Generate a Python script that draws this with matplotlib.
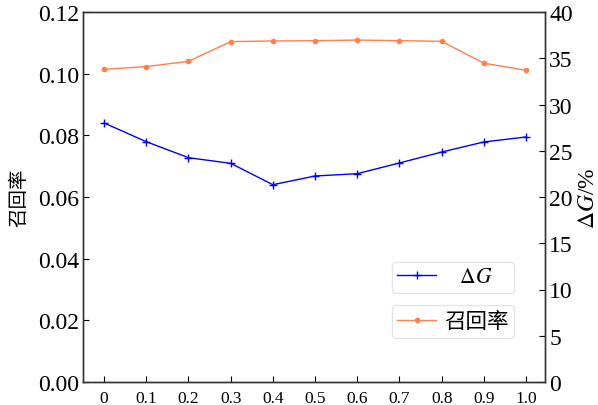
import matplotlib
matplotlib.use("Agg")
import matplotlib.pyplot as plt

plt.rcParams['font.family'] = ['Liberation Serif', 'Noto Sans CJK SC']
plt.rcParams['mathtext.fontset'] = 'stix'

# threshold values on the x axis
thresholds = [0.0, 0.1, 0.2, 0.3, 0.4, 0.5, 0.6, 0.7, 0.8, 0.9, 1.0]
x_labels = ['0', '0.1', '0.2', '0.3', '0.4', '0.5', '0.6', '0.7', '0.8', '0.9', '1.0']

# recall (left axis)
recall = [0.1014, 0.1023, 0.1040, 0.1104, 0.1106, 0.1107, 0.1109, 0.1107, 0.1105, 0.1034, 0.1011]
# delta G in percent (right axis)
delta_g = [28.0, 25.98, 24.25, 23.64, 21.33, 22.27, 22.52, 23.68, 24.86, 25.95, 26.49]

left_ticks = [0.00, 0.02, 0.04, 0.06, 0.08, 0.10, 0.12]
right_ticks = [0, 5, 10, 15, 20, 25, 30, 35, 40]

fig = plt.figure(figsize=(5.98, 4.06), dpi=100)
ax = fig.add_axes([83 / 598, 1 - 383 / 406, (545 - 83) / 598, (383 - 13) / 406])
ax2 = ax.twinx()

ax.plot(thresholds, recall, color='#ff7f50', marker='o', markersize=3,
        linewidth=1.0, label='召回率')
ax2.plot(thresholds, delta_g, color='#0000ff', marker='+', markersize=6,
         markeredgewidth=1.0, linewidth=1.0, label='$\\quad\\Delta G$')

ax.set_xlim(-0.05, 1.045)
ax.set_ylim(0, 0.12)
ax2.set_ylim(0, 40)
ax.set_xticks(thresholds)
ax.set_xticklabels(x_labels)
ax.set_yticks(left_ticks)
ax.set_yticklabels([f'{v:.2f}' for v in left_ticks])
ax2.set_yticks(right_ticks)

ax.tick_params(axis='x', direction='in', length=4, labelsize=12.5, pad=6)
ax.tick_params(axis='y', direction='in', length=4, labelsize=17, pad=3)
ax2.tick_params(axis='y', direction='in', length=4, labelsize=17, pad=3)

for a in (ax, ax2):
    for s in a.spines.values():
        s.set_color('#333333')
        s.set_linewidth(1.0)

ax.set_ylabel('召回率', fontsize=14, family=['Noto Sans CJK SC'], labelpad=6)
ax2.set_ylabel('$\\Delta G$/%', fontsize=17, labelpad=4)

# both legend boxes share the same width
leg_w, leg_h = 122 / 598, 30 / 406
leg_kw = dict(loc='upper left', mode='expand', bbox_transform=fig.transFigure,
              handlelength=1.8, handletextpad=0.35, borderpad=0.25,
              borderaxespad=0, framealpha=0.5)
ax2.legend(bbox_to_anchor=(392 / 598, 1 - 293 / 406, leg_w, leg_h),
           fontsize=15.5, **leg_kw)
ax.legend(bbox_to_anchor=(392 / 598, 1 - 336 / 406, leg_w, leg_h),
          prop={'family': ['Noto Sans CJK SC'], 'size': 15.5}, **leg_kw)
ax.set_zorder(ax2.get_zorder() + 1)
ax.patch.set_visible(False)

fig.savefig('out.png', dpi=100)
